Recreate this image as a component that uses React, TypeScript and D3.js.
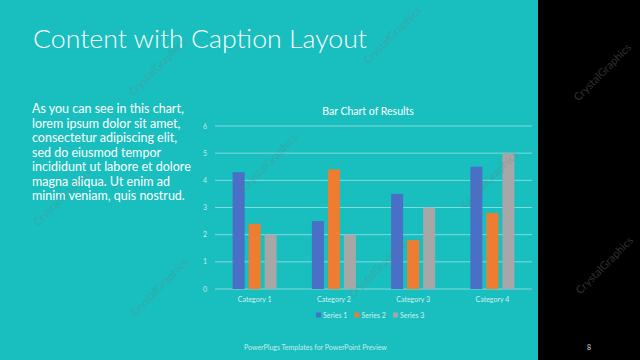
import React from "react";
import * as d3 from "d3";

const categories = ["Category 1", "Category 2", "Category 3", "Category 4"];
const seriesNames = ["Series 1", "Series 2", "Series 3"];
const series1 = [4.3, 2.5, 3.5, 4.5];
const series2 = [2.4, 4.4, 1.8, 2.8];
const series3 = [2.0, 2.0, 3.0, 5.0];
const yTicks = [0, 1, 2, 3, 4, 5, 6];
const bodyLines = [
  "As you can see in this chart,",
  "lorem ipsum dolor sit amet,",
  "consectetur adipiscing elit,",
  "sed do eiusmod tempor",
  "incididunt ut labore et dolore",
  "magna aliqua. Ut enim ad",
  "minim veniam, quis nostrud.",
];
const watermarks: [number, number][] = [
  [160, 70], [395, 38], [605, 75], [65, 200], [272, 165], [492, 182], [162, 290], [380, 272], [607, 268],
];

const colors = ["#4a6fc6", "#ee7d31", "#a7a7a7"];
const FONT = "Lato, 'Open Sans', sans-serif";

export default function App() {
  const allSeries = [series1, series2, series3];
  const x0 = d3.scaleBand<string>().domain(categories).range([215, 532]).paddingInner(0).paddingOuter(0);
  const x1 = d3.scaleBand<string>().domain(seriesNames).range([0, x0.bandwidth()]).paddingInner(0.25).paddingOuter(1.1);
  const y = d3.scaleLinear().domain([0, 6]).range([289, 126]);

  return (
    <div style={{ position: "fixed", left: 0, top: 0, width: 640, height: 360 }}>
      <svg width={640} height={360} style={{ display: "block" }}>
        <rect x={0} y={0} width={640} height={360} fill="#000" />
        <rect x={0} y={0} width={538} height={360} fill="#19bebe" />
        <text x={33} y={48} fontFamily={FONT} fontWeight={300} fontSize={26} fill="#fff" textLength={334} lengthAdjust="spacingAndGlyphs">
          Content with Caption Layout
        </text>
        {bodyLines.map((l, i) => (
          <text key={i} x={32} y={113 + i * 14.5} fontFamily={FONT} fontSize={12.5} fill="#fff">
            {l}
          </text>
        ))}
        <text x={368} y={115} textAnchor="middle" fontFamily={FONT} fontSize={10.5} fill="#fff">
          Bar Chart of Results
        </text>
        {yTicks.map((t) => (
          <g key={t}>
            <line x1={215} x2={532} y1={y(t)} y2={y(t)} stroke="rgba(255,255,255,0.45)" strokeWidth={1} />
            <text x={205} y={y(t) + 2.5} textAnchor="middle" fontFamily={FONT} fontSize={7} fill="rgba(255,255,255,0.75)">
              {t}
            </text>
          </g>
        ))}
        {categories.map((c, ci) => (
          <g key={c} transform={`translate(${x0(c)},0)`}>
            {allSeries.map((s, si) => (
              <rect
                key={si}
                x={x1(seriesNames[si])}
                y={y(s[ci])}
                width={x1.bandwidth()}
                height={y(0) - y(s[ci])}
                fill={colors[si]}
              />
            ))}
            <text x={x0.bandwidth() / 2} y={302} textAnchor="middle" fontFamily={FONT} fontSize={7} fill="rgba(255,255,255,0.8)">
              {c}
            </text>
          </g>
        ))}
        {seriesNames.map((n, i) => (
          <g key={n} transform={`translate(${316 + i * 38.5},315)`}>
            <rect x={0} y={-2.5} width={5} height={5} fill={colors[i]} />
            <text x={7} y={2.5} fontFamily={FONT} fontSize={7} fill="rgba(255,255,255,0.8)">
              {n}
            </text>
          </g>
        ))}
        <text x={244} y={350} fontFamily={FONT} fontSize={7} fill="rgba(255,255,255,0.75)">
          PowerPlugs Templates for PowerPoint Preview
        </text>
        <text x={589} y={350} fontFamily={FONT} fontSize={7} fill="#dddddd" textAnchor="middle">
          8
        </text>
        {watermarks.map(([wx, wy], i) => (
          <text
            key={i}
            transform={`translate(${wx},${wy}) rotate(-45)`}
            textAnchor="middle"
            fontFamily={FONT}
            fontSize={11}
            fill={wx > 540 ? "rgba(255,255,255,0.2)" : "rgba(120,120,120,0.3)"}
          >
            CrystalGraphics
          </text>
        ))}
      </svg>
    </div>
  );
}
